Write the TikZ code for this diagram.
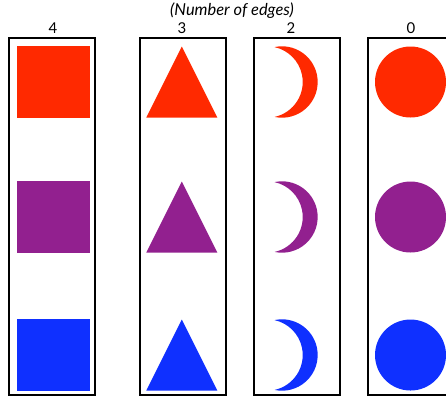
\documentclass[tikz,border=0pt]{standalone}
\usepackage{fontspec}
\setmainfont{Lato}
\usetikzlibrary{positioning}
\definecolor{shapeRed}{RGB}{255,41,0}
\definecolor{shapePurple}{RGB}{146,32,143}
\definecolor{shapeBlue}{RGB}{15,48,255}
\tikzset{
    groupBox/.style={
        rectangle,
        draw=black,
        line width=2bp,
        inner sep=0pt,
        minimum width=86bp,
        minimum height=357bp
    },
    countLabel/.style={
        inner sep=0pt,
        font=\fontsize{15}{17}\selectfont
    },
    squareShape/.style={
        rectangle,
        inner sep=0pt,
        minimum size=72bp
    },
    roundShape/.style={
        circle,
        inner sep=0pt,
        minimum size=71bp
    }
}

\begin{document}
\begin{tikzpicture}[x=1bp, y=-1bp]
            \useasboundingbox (0,0) rectangle (446,399);
            \clip (0,0) rectangle (446,399);

            % Group boxes
            \node[groupBox] (BoxFour)  at (52.4,216.5) {};
            \node[groupBox] (BoxThree) at (182.6,216.5) {};
            \node[groupBox] (BoxTwo)   at (297,216.5) {};
            \node[groupBox] (BoxZero)  at (411,216.5) {};

            % Titles
            \node[countLabel, font=\fontsize{16.5}{18}\selectfont\itshape] (Title) at (232,11) {(Number of edges)};
            \node[countLabel] (LabelFour)  at (53,28)  {4};
            \node[countLabel] (LabelThree) at (182,28) {3};
            \node[countLabel] (LabelTwo)   at (291,28) {2};
            \node[countLabel] (LabelZero)  at (411,28) {0};

            % Shapes, one row per colour
            \foreach \rowY/\shapeColor in {82/shapeRed, 217/shapePurple, 355/shapeBlue} {
                \node[squareShape, fill=\shapeColor] (Square\rowY) at (53.5,\rowY) {};
                \fill[\shapeColor] (181.8,\rowY-35.5) -- (217.3,\rowY+35.5) -- (146.3,\rowY+35.5) -- cycle;
                \fill[\shapeColor] (274.5,\rowY-34.9)
                    arc[start angle=-102.1, end angle=102.1, radius=35.7]
                    arc[start angle=77.9, end angle=-77.9, radius=35.7] -- cycle;
                \node[roundShape, fill=\shapeColor] (Round\rowY) at (410.5,\rowY) {};
            }
        \end{tikzpicture}
\end{document}
